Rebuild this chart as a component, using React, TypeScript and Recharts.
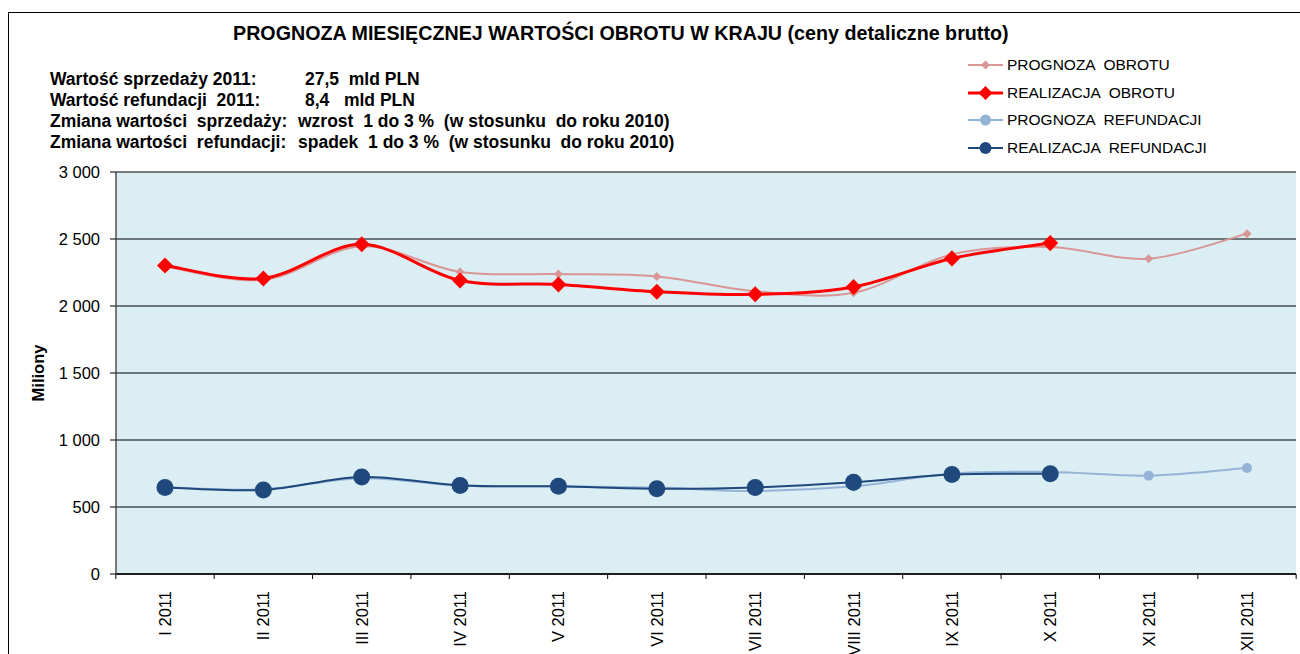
import React from 'react';
import { LineChart, Line, XAxis, YAxis, CartesianGrid, Legend } from 'recharts';

const months = ['I 2011', 'II 2011', 'III 2011', 'IV 2011', 'V 2011', 'VI 2011', 'VII 2011', 'VIII 2011', 'IX 2011', 'X 2011', 'XI 2011', 'XII 2011'];
const prognozaObrotu = [2295, 2195, 2445, 2254, 2239, 2221, 2110, 2099, 2385, 2440, 2353, 2540];
const realizacjaObrotu: (number | null)[] = [2303, 2206, 2460, 2191, 2161, 2107, 2087, 2142, 2355, 2470, null, null];
const prognozaRefundacji = [648, 632, 715, 660, 655, 645, 619, 654, 750, 762, 734, 791];
const realizacjaRefundacji: (number | null)[] = [646, 627, 724, 661, 654, 637, 646, 684, 743, 748, null, null];
const yTicks = [0, 500, 1000, 1500, 2000, 2500, 3000];

const title = 'PROGNOZA MIESIĘCZNEJ WARTOŚCI OBROTU W KRAJU (ceny detaliczne brutto)';
const infoLabels = ['Wartość sprzedaży 2011:', 'Wartość refundacji  2011:', 'Zmiana wartości  sprzedaży:', 'Zmiana wartości  refundacji:'];
const infoValues = ['27,5  mld PLN', '8,4   mld PLN', 'wzrost  1 do 3 %  (w stosunku  do roku 2010)', 'spadek  1 do 3 %  (w stosunku  do roku 2010)'];

const data = months.map((m, i) => ({
  month: m,
  po: prognozaObrotu[i],
  ro: realizacjaObrotu[i],
  pr: prognozaRefundacji[i],
  rr: realizacjaRefundacji[i],
}));

const FONT = '"Liberation Sans", Arial, sans-serif';
const X_TICK_MARGIN = 17;
const X_TICK_LEN = 5;

type SeriesCfg = { key: string; name: string; color: string; width: number; shape: 'diamond' | 'circle'; size: number; legendSize: number };
const series: SeriesCfg[] = [
  { key: 'po', name: 'PROGNOZA  OBROTU', color: '#D99694', width: 2, shape: 'diamond', size: 4.5, legendSize: 4.5 },
  { key: 'ro', name: 'REALIZACJA  OBROTU', color: '#FF0000', width: 3, shape: 'diamond', size: 8, legendSize: 7 },
  { key: 'pr', name: 'PROGNOZA  REFUNDACJI', color: '#95B3D7', width: 2, shape: 'circle', size: 5, legendSize: 5.5 },
  { key: 'rr', name: 'REALIZACJA  REFUNDACJI', color: '#1F497D', width: 2, shape: 'circle', size: 8.5, legendSize: 6 },
];

const excelSmooth: any = (context: any) => {
  let pts: number[][] = [];
  return {
    areaStart() {},
    areaEnd() {},
    lineStart() {
      pts = [];
    },
    point(x: number, y: number) {
      pts.push([+x, +y]);
    },
    lineEnd() {
      const n = pts.length;
      if (!n) return;
      context.moveTo(pts[0][0], pts[0][1]);
      for (let i = 0; i < n - 1; i++) {
        const p0 = pts[Math.max(i - 1, 0)];
        const p1 = pts[i];
        const p2 = pts[i + 1];
        const p3 = pts[Math.min(i + 2, n - 1)];
        context.bezierCurveTo(
          p1[0] + (p2[0] - p0[0]) / 6,
          p1[1] + (p2[1] - p0[1]) / 6,
          p2[0] - (p3[0] - p1[0]) / 6,
          p2[1] - (p3[1] - p1[1]) / 6,
          p2[0],
          p2[1]
        );
      }
    },
  };
};

function marker(shape: string, cx: number, cy: number, s: number, fill: string, key?: string) {
  if (shape === 'diamond') {
    return <polygon key={key} points={`${cx},${cy - s} ${cx + s},${cy} ${cx},${cy + s} ${cx - s},${cy}`} fill={fill} stroke="none" />;
  }
  return <circle key={key} cx={cx} cy={cy} r={s} fill={fill} stroke="none" />;
}

const makeDot = (cfg: SeriesCfg) => (props: any) => {
  const { cx, cy, index } = props;
  if (cx == null || cy == null || props.value == null) return <g key={`d-${cfg.key}-${index}`} />;
  return marker(cfg.shape, cx, cy, cfg.size, cfg.color, `d-${cfg.key}-${index}`);
};

const fmtY = (v: number) => (v >= 1000 ? `${Math.floor(v / 1000)}\u00a0${String(v % 1000).padStart(3, '0')}` : String(v));

const XTick = (props: any) => {
  const { x, y, payload, index, width, visibleTicksCount } = props;
  const band = width && visibleTicksCount ? width / visibleTicksCount : 0;
  const axisY = y - X_TICK_MARGIN;
  return (
    <g>
      {band > 0 && <line x1={x - band / 2} x2={x - band / 2} y1={axisY} y2={axisY + X_TICK_LEN} stroke="#000" strokeWidth={1} />}
      {band > 0 && index === visibleTicksCount - 1 && (
        <line x1={x + band / 2} x2={x + band / 2} y1={axisY} y2={axisY + X_TICK_LEN} stroke="#000" strokeWidth={1} />
      )}
      <text
        transform={`translate(${x},${y}) rotate(-90)`}
        x={0}
        y={0}
        textAnchor="end"
        dominantBaseline="central"
        fontFamily={FONT}
        fontSize={16.5}
        fill="#000"
      >
        {payload.value}
      </text>
    </g>
  );
};

const LegendContent = () => (
  <div style={{ fontFamily: FONT, fontSize: 15.5, color: '#000' }}>
    {series.map((s) => (
      <div key={s.key} style={{ display: 'flex', alignItems: 'center', height: 27.7 }}>
        <svg width={38} height={20} style={{ display: 'block', flex: 'none' }}>
          <line x1={2} y1={10} x2={37} y2={10} stroke={s.color} strokeWidth={s.width} />
          {marker(s.shape, 19.5, 10, s.legendSize, s.color)}
        </svg>
        <span style={{ marginLeft: 3, whiteSpace: 'pre' }}>{s.name}</span>
      </div>
    ))}
  </div>
);

const YLabel = (props: any) => {
  const vb = props.viewBox || { x: 0, y: 172, width: 116, height: 402 };
  const x = vb.x + 38;
  const y = vb.y + vb.height / 2;
  return (
    <text x={x} y={y} transform={`rotate(-90 ${x} ${y})`} textAnchor="middle" dominantBaseline="central" fontFamily={FONT} fontSize={16.5} fontWeight="bold" fill="#000">
      Miliony
    </text>
  );
};

export default function App() {
  return (
    <div style={{ position: 'fixed', left: 0, top: 0, width: 1300, height: 654, overflow: 'hidden', background: '#fff' }}>
      <div style={{ position: 'absolute', left: 8, top: 12, width: 1400, height: 800, border: '1px solid #000', boxSizing: 'border-box' }} />
      <div style={{ position: 'absolute', left: 233, top: 33 - 10, fontFamily: FONT, fontWeight: 'bold', fontSize: 19.7, lineHeight: '20px', whiteSpace: 'nowrap', color: '#000' }}>
        {title}
      </div>
      {infoLabels.map((t, i) => (
        <div key={`l${i}`} style={{ position: 'absolute', left: 50, top: 79 + i * 21 - 9, fontFamily: FONT, fontWeight: 'bold', fontSize: 17.5, lineHeight: '18px', whiteSpace: 'pre', color: '#000' }}>
          {t}
        </div>
      ))}
      {infoValues.map((t, i) => (
        <div key={`v${i}`} style={{ position: 'absolute', left: i < 2 ? 305 : 298, top: 79 + i * 21 - 9, fontFamily: FONT, fontWeight: 'bold', fontSize: 17.5, lineHeight: '18px', whiteSpace: 'pre', color: '#000' }}>
          {t}
        </div>
      ))}
      <div style={{ position: 'absolute', left: 0, top: 0 }}>
        <LineChart width={1300} height={654} data={data} margin={{ top: 172, right: 4, left: 0, bottom: 0 }}>
          <CartesianGrid vertical={false} horizontal stroke="#000" strokeWidth={1.2} fill="#DAEEF3" fillOpacity={1} />
          <XAxis
            dataKey="month"
            height={80}
            padding={{ left: 49, right: 49 }}
            interval={0}
            axisLine={{ stroke: '#000', strokeWidth: 1.5 }}
            tickLine={false}
            tickSize={0}
            tickMargin={X_TICK_MARGIN}
            tick={<XTick />}
          />
          <YAxis
            width={116}
            domain={[0, 3000]}
            ticks={yTicks}
            allowDataOverflow
            tickFormatter={fmtY}
            tick={{ fontFamily: FONT, fontSize: 16.5, fill: '#000' }}
            tickLine={{ stroke: '#000' }}
            tickSize={6}
            tickMargin={10}
            axisLine={{ stroke: '#505050', strokeWidth: 1.5 }}
            label={YLabel}
          />
          <YAxis yAxisId="r" orientation="right" width={0} domain={[0, 3000]} allowDataOverflow tick={false} tickLine={false} axisLine={{ stroke: '#A6A6A6', strokeWidth: 1.5 }} />
          {series.map((s) => (
            <Line
              key={s.key}
              dataKey={s.key}
              name={s.name}
              type={excelSmooth}
              stroke={s.color}
              strokeWidth={s.width}
              dot={makeDot(s)}
              activeDot={false}
              isAnimationActive={false}
              connectNulls={false}
            />
          ))}
          <Legend
            layout="vertical"
            align="center"
            verticalAlign="middle"
            content={<LegendContent />}
            wrapperStyle={{ position: 'absolute', left: 966, top: 51, width: 330, height: 112 }}
          />
        </LineChart>
      </div>
    </div>
  );
}
